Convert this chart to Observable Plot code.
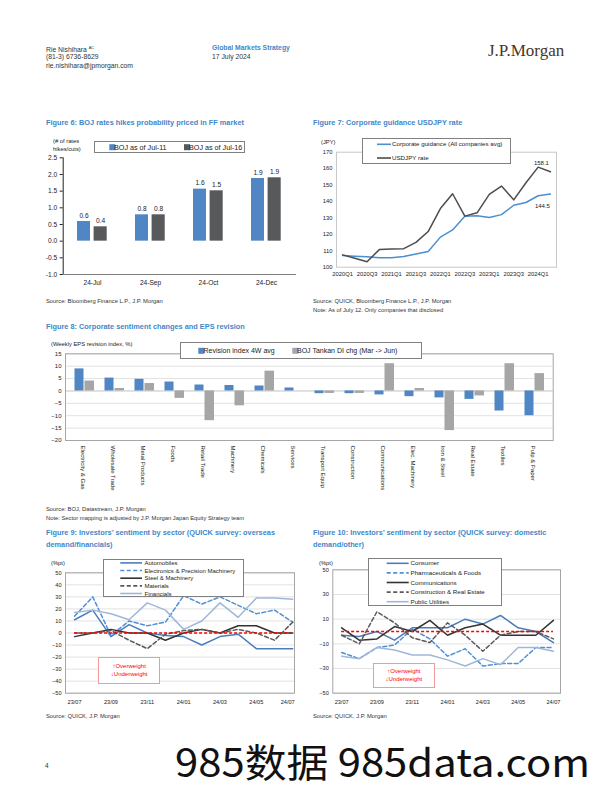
<!DOCTYPE html>
<html><head><meta charset="utf-8">
<script src="https://cdn.jsdelivr.net/npm/d3@7"></script>
<script src="https://cdn.jsdelivr.net/npm/@observablehq/plot@0.6"></script>
<style>
html,body{margin:0;padding:0;background:#fff;}
#page{position:relative;width:612px;height:792px;overflow:hidden;font-family:"Liberation Sans",Arial,sans-serif;color:#222;}
.a{position:absolute;white-space:nowrap;}
.ttl{font-size:7.35px;font-weight:bold;color:#3f87c9;line-height:12px;}
.src{font-size:5.8px;color:#333;line-height:9px;}
.hd{font-size:6.8px;color:#333;line-height:9px;}
.ax{font-size:5.8px;color:#222;line-height:8.5px;}
.ow{position:absolute;border:1px solid #f29a9a;box-sizing:border-box;color:#f00;font-size:6px;line-height:8px;text-align:center;display:flex;flex-direction:column;justify-content:center;background:#fff;}
.lg{position:absolute;border:1px solid #808080;background:#fff;box-sizing:border-box;}
</style></head><body><div id="page"></div>
<script>
// ---------------- DATA ----------------
// Figure 6
const fig6Categories = ["24-Jul", "24-Sep", "24-Oct", "24-Dec"];
const fig6Jul11 = [0.59, 0.79, 1.56, 1.88];
const fig6Jul16 = [0.43, 0.79, 1.51, 1.90];
const fig6YTicks = [-1, -0.5, 0, 0.5, 1, 1.5, 2, 2.5];

// Figure 7
const fig7Quarters = ["2020Q1","2020Q2","2020Q3","2020Q4","2021Q1","2021Q2","2021Q3","2021Q4","2022Q1","2022Q2","2022Q3","2022Q4","2023Q1","2023Q2","2023Q3","2023Q4","2024Q1","2024Q2"];
const fig7Guidance = [107.1,106.7,106.3,105.7,105.7,106.5,108.1,109.5,118.3,122.7,131.0,131.3,130.2,132.0,137.7,139.4,143.5,144.5];
const fig7Usdjpy = [107.5,105.4,103.3,110.7,111.1,111.3,115.1,121.7,135.7,144.7,131.1,133.1,144.3,149.4,141.0,151.4,160.9,158.1];
const fig7XTickIdx = [0, 2, 4, 6, 8, 10, 12, 14, 16];
const fig7YTicks = [100, 110, 120, 130, 140, 150, 160, 170];

// Figure 8
const fig8Sectors = ["Electricity & Gas","Wholesale Trade","Metal Products","Foods","Retail Trade","Machinery","Chemicals","Services","Transport Equip","Construction","Communications","Elec. Machinery","Iron & Steel","Real Estate","Textiles","Pulp & Paper"];
const fig8Revision = [8.9, 5.2, 4.7, 3.6, 2.4, 2.2, 2.0, 1.2, -1.1, -1.1, -1.6, -2.3, -2.8, -3.4, -8.1, -10.0];
const fig8Tankan = [4, 1, 3, -3, -12, -6, 8, 0, -1, -1, 11, 1, -16, -2, 11, 7];
const fig8YTicks = [-20, -15, -10, -5, 0, 5, 10, 15];

// Figure 9
const fig9Months = ["23/07","23/08","23/09","23/10","23/11","23/12","24/01","24/02","24/03","24/04","24/05","24/06","24/07"];
const fig9Automobiles = [11, 19, -3, 7, 0, -2, -3, -10, -3, -1, -13, -13, -13];
const fig9Electronics = [14, 30, -2, 10, 6, 9, 31, 24, 30, 23, 16, 19, 9];
const fig9Steel = [-3, 0, 3, 0, 0, -6, 0, 3, 0, 6, 6, 0, 0];
const fig9Materials = [0, 0, 2, -6, -13, -1, 2, 3, 0, 3, 0, -6, 9];
const fig9Financials = [17, 19, 16, 11, 25, 19, 3, 10, 25, 13, 29, 29, 28];
const fig9YTicks = [-50, -40, -30, -20, -10, 0, 10, 20, 30, 40, 50];
const fig9XTickIdx = [0, 2, 4, 6, 8, 10, 12];

// Figure 10
const fig10Months = ["23/07","23/08","23/09","23/10","23/11","23/12","24/01","24/02","24/03","24/04","24/05","24/06","24/07"];
const fig10Consumer = [-3, -4, 0, -7, 3, 3, 3, 10, 6, 13, 3, 0, -9];
const fig10Pharma = [-17, -22, -13, -11, 2, -6, -20, -14, -28, -26, -26, -13, -13];
const fig10Communications = [3, -7, -6, 4, 0, 9, -3, 3, 6, -3, -3, -3, 9];
const fig10Construction = [-3, -10, 16, 7, -5, -9, 7, -3, -16, -3, 0, 0, -6];
const fig10Utilities = [-20, -22, -13, -15, -19, -19, -23, -28, -22, -27, -13, -13, -16];
const fig10YTicks = [-50, -30, -10, 10, 30, 50];
const fig10XTickIdx = [0, 2, 4, 6, 8, 10, 12];

// ---------------- STYLE ----------------
const BLUE = "#4f86c3";
const DARK = "#58595b";
const GRAY = "#a6a6a6";
const LBLUE = "#9fb7d9";
const FONT = "Liberation Sans, Arial, sans-serif";
const page = document.getElementById("page");

function put(cls, left, top, html, extra) {
  const d = document.createElement("div");
  d.className = "a " + cls;
  d.style.left = left + "px";
  d.style.top = top + "px";
  if (extra) Object.assign(d.style, extra);
  d.innerHTML = html;
  page.appendChild(d);
  return d;
}
function place(svg, left, top) {
  svg.style.position = "absolute";
  svg.style.left = left + "px";
  svg.style.top = top + "px";
  svg.style.overflow = "visible";
  page.appendChild(svg);
}
const NS = "http://www.w3.org/2000/svg";
function legend(left, top, w, h, fs, entries) {
  const box = document.createElement("div");
  box.className = "lg";
  Object.assign(box.style, {left: left + "px", top: top + "px", width: w + "px", height: h + "px"});
  const svg = document.createElementNS(NS, "svg");
  svg.setAttribute("width", w); svg.setAttribute("height", h);
  svg.style.position = "absolute"; svg.style.left = "-1px"; svg.style.top = "-1px"; svg.style.overflow = "visible";
  for (const e of entries) {
    if (e.type === "square") {
      const r = document.createElementNS(NS, "rect");
      r.setAttribute("x", e.x); r.setAttribute("y", e.y - 3); r.setAttribute("width", 6); r.setAttribute("height", 6);
      r.setAttribute("fill", e.color); svg.appendChild(r);
    } else {
      const l = document.createElementNS(NS, "line");
      l.setAttribute("x1", e.x); l.setAttribute("x2", e.x2); l.setAttribute("y1", e.y); l.setAttribute("y2", e.y);
      l.setAttribute("stroke", e.color); l.setAttribute("stroke-width", 1.6);
      if (e.dash) l.setAttribute("stroke-dasharray", e.dash);
      svg.appendChild(l);
    }
    const t = document.createElementNS(NS, "text");
    t.setAttribute("x", e.tx); t.setAttribute("y", e.y); t.setAttribute("dy", "0.35em");
    t.setAttribute("font-size", fs); t.setAttribute("font-family", FONT); t.setAttribute("fill", "#222");
    t.textContent = e.label; svg.appendChild(t);
  }
  box.appendChild(svg);
  page.appendChild(box);
}
function owBox(left, top, w, h) {
  const d = document.createElement("div");
  d.className = "ow";
  Object.assign(d.style, {left: left + "px", top: top + "px", width: w + "px", height: h + "px"});
  d.innerHTML = "<div>\u2191Overweight</div><div>\u2193Underweight</div>";
  page.appendChild(d);
}
const baseStyle = (fs) => ({fontFamily: FONT, fontSize: fs + "px", color: "#222", background: "transparent", overflow: "visible"});

// ---------------- HEADER ----------------
put("hd", 46, 42.5, "Rie Nishihara <sup style='font-size:4px'>AC</sup>");
put("hd", 46, 51.5, "(81-3) 6736-8629");
put("hd", 46, 60.5, "rie.nishihara@jpmorgan.com");
put("hd", 212, 42.5, "Global Markets Strategy", {color: "#3f87c9", fontWeight: "bold"});
put("hd", 212, 51.5, "17 July 2024");
put("", 488, 41, "J.P.Morgan", {fontFamily: "Liberation Serif, 'DejaVu Serif', serif", fontSize: "17px", lineHeight: "20px", color: "#4a3527"});

// ---------------- FIGURE 6 ----------------
put("ttl", 46, 117, "Figure 6: BOJ rates hikes probability priced in FF market");
put("ax", 53, 136.5, "(# of rates<br>hikes/cuts)");
const fig6Rows1 = fig6Categories.map((c, i) => ({cat: c, v: fig6Jul11[i]}));
const fig6Rows2 = fig6Categories.map((c, i) => ({cat: c, v: fig6Jul16[i]}));
const f6 = Plot.plot({
  width: 262, height: 140,
  marginLeft: 22.7, marginRight: 6, marginTop: 7.3, marginBottom: 16,
  style: baseStyle(6.6),
  x: {domain: fig6Categories, padding: 0, tickSize: 0, tickPadding: 6, label: null},
  y: {domain: [-1, 2.5], ticks: fig6YTicks, tickFormat: d => d.toFixed(1), tickSize: 3, tickPadding: 3, line: true, label: null},
  marks: [
    Plot.ruleY([-1], {stroke: "#7f7f7f"}),
    Plot.barY(fig6Rows1, {x: "cat", y: "v", fill: BLUE, insetLeft: 14, insetRight: 31}),
    Plot.barY(fig6Rows2, {x: "cat", y: "v", fill: DARK, insetLeft: 30.6, insetRight: 14.3}),
    Plot.text(fig6Rows1, {x: "cat", y: "v", text: d => d.v.toFixed(1), dx: -8.5, dy: -6, fontSize: 6.6}),
    Plot.text(fig6Rows2, {x: "cat", y: "v", text: d => d.v.toFixed(1), dx: 8.2, dy: -6, fontSize: 6.6})
  ]
});
place(f6, 40, 150);
legend(94, 140.7, 151, 12.3, 7.2, [
  {type: "square", x: 15.3, y: 6.2, color: BLUE, tx: 20, label: "BOJ as of Jul-11"},
  {type: "square", x: 90, y: 6.2, color: DARK, tx: 95, label: "BOJ as of Jul-16"}
]);
put("src", 46, 296.5, "Source: Bloomberg Finance L.P., J.P. Morgan");

// ---------------- FIGURE 7 ----------------
put("ttl", 313, 117, "Figure 7: Corporate guidance USDJPY rate");
put("ax", 321, 138, "(JPY)");
const f7 = Plot.plot({
  width: 265, height: 140,
  marginLeft: 31, marginRight: 14, marginTop: 11.7, marginBottom: 13.3,
  style: baseStyle(5.8),
  x: {domain: [-0.5, 17.5], ticks: fig7XTickIdx, tickFormat: i => fig7Quarters[i], tickSize: 0, tickPadding: 5, label: null},
  y: {domain: [100, 170], ticks: fig7YTicks, tickSize: 0, tickPadding: 4, label: null},
  marks: [
    Plot.frame({stroke: "#c8c8c8"}),
    Plot.lineY(fig7Guidance, {x: (d, i) => i, y: d => d, stroke: "#4a8fd0", strokeWidth: 1.5}),
    Plot.lineY(fig7Usdjpy, {x: (d, i) => i, y: d => d, stroke: "#4d4d4d", strokeWidth: 1.5}),
    Plot.text([fig7Usdjpy[fig7Usdjpy.length - 1]], {x: fig7Usdjpy.length - 1, y: d => d, text: d => d.toFixed(1), dx: -9, dy: -9, fontSize: 6}),
    Plot.text([fig7Guidance[fig7Guidance.length - 1]], {x: fig7Guidance.length - 1, y: d => d, text: d => d.toFixed(1), dx: -8, dy: 11.5, fontSize: 6})
  ]
});
place(f7, 305, 140);
legend(361.7, 138, 149, 26, 6.2, [
  {type: "line", x: 15, x2: 29, y: 6.3, color: "#4a8fd0", tx: 30, label: "Corporate guidance (All companies avg)"},
  {type: "line", x: 15, x2: 29, y: 20, color: "#4d4d4d", tx: 30, label: "USDJPY rate"}
]);
put("src", 313, 296.5, "Source: QUICK, Bloomberg Finance L.P., J.P. Morgan<br>Note: As of July 12. Only companies that disclosed");

// ---------------- FIGURE 8 ----------------
put("ttl", 46, 321, "Figure 8: Corporate sentiment changes and EPS revision");
put("ax", 51, 340, "(Weekly EPS revision index, %)");
const fig8Rows = fig8Sectors.map((s, i) => ({sector: s, rev: fig8Revision[i], tankan: fig8Tankan[i]}));
const f8 = Plot.plot({
  width: 520, height: 165,
  marginLeft: 25, marginRight: 7.3, marginTop: 17.3, marginBottom: 61,
  style: baseStyle(6),
  x: {domain: fig8Sectors, padding: 0, axis: null},
  y: {domain: [-20, 15], ticks: fig8YTicks, tickSize: 0, tickPadding: 4, label: null},
  marks: [
    Plot.ruleY(fig8YTicks, {stroke: "#e2e2e2"}),
    Plot.ruleY([0], {stroke: "#d0d0d0"}),
    Plot.frame({stroke: "#a6a6a6"}),
    Plot.barY(fig8Rows, {x: "sector", y: "rev", fill: BLUE, insetLeft: 5.5, insetRight: 15.5}),
    Plot.barY(fig8Rows, {x: "sector", y: "tankan", fill: GRAY, insetLeft: 15.5, insetRight: 5}),
    Plot.text(fig8Sectors, {x: d => d, y: -20, text: d => d, rotate: 90, textAnchor: "start", dy: 5, dx: -1.5, fontSize: 6})
  ]
});
place(f8, 40, 336);
legend(180, 341.7, 242, 17.6, 7, [
  {type: "square", x: 18.3, y: 8.8, color: BLUE, tx: 23.5, label: "Revision index 4W avg"},
  {type: "square", x: 112.3, y: 8.8, color: GRAY, tx: 117, label: "BOJ Tankan DI chg (Mar -> Jun)"}
]);
put("src", 46, 504.5, "Source: BOJ, Datastream, J.P. Morgan<br>Note: Sector mapping is adjusted by J.P. Morgan Japan Equity Strategy team");

// ---------------- FIGURE 9 ----------------
put("ttl", 46, 527, "Figure 9: Investors\u2019 sentiment by sector (QUICK survey: overseas<br>demand/financials)");
put("ax", 51, 559, "(%pt)");
const fig9Series = [
  {name: "Automobiles", values: fig9Automobiles, stroke: "#4a7ebb", dash: null},
  {name: "Electronics & Precision Machinery", values: fig9Electronics, stroke: "#4f8fd6", dash: "4,2.5"},
  {name: "Steel & Machinery", values: fig9Steel, stroke: "#333333", dash: null},
  {name: "Materials", values: fig9Materials, stroke: "#595959", dash: "4,2.5"},
  {name: "Financials", values: fig9Financials, stroke: LBLUE, dash: null}
];
const f9 = Plot.plot({
  width: 260, height: 150,
  marginLeft: 25, marginRight: 6, marginTop: 12.3, marginBottom: 17.3,
  style: baseStyle(5.6),
  x: {domain: [-0.5, 12.1], axis: null},
  y: {domain: [-50, 50], ticks: fig9YTicks, tickSize: 0, tickPadding: 4, label: null},
  marks: [
    Plot.ruleY(fig9YTicks, {stroke: "#e2e2e2"}),
    Plot.frame({stroke: "#a6a6a6"}),
    ...fig9Series.map(s => Plot.lineY(s.values, {x: (d, i) => i, y: d => d, stroke: s.stroke, strokeWidth: 1.5, strokeDasharray: s.dash})),
    Plot.ruleY([0], {x1: 0, x2: fig9Months.length - 1, stroke: "#ff0000", strokeWidth: 1.5, strokeDasharray: "3,2"}),
    Plot.text(fig9XTickIdx.slice(0, -1), {x: d => d, y: -50, text: d => fig9Months[d], dy: 9, fontSize: 5.6}),
    Plot.text(fig9XTickIdx.slice(-1), {x: d => d, y: -50, text: d => fig9Months[d], dy: 9, dx: 2, textAnchor: "end", fontSize: 5.6})
  ]
});
place(f9, 40, 560);
legend(102.7, 559, 141.6, 38.3, 6, fig9Series.map((s, i) => ({
  type: "line", x: 17.3, x2: 39, y: 3.9 + i * 7.65, color: s.stroke, dash: s.dash, tx: 41.5, label: s.name
})));
owBox(98.3, 656.7, 61.7, 27.3);
put("src", 46, 712, "Source: QUICK, J.P. Morgan");

// ---------------- FIGURE 10 ----------------
put("ttl", 313, 527, "Figure 10: Investors\u2019 sentiment by sector (QUICK survey: domestic<br>demand/other)");
put("ax", 319, 558.5, "(%pt)");
const fig10Series = [
  {name: "Consumer", values: fig10Consumer, stroke: "#4a7ebb", dash: null},
  {name: "Pharmaceuticals & Foods", values: fig10Pharma, stroke: "#4f8fd6", dash: "4,2.5"},
  {name: "Communications", values: fig10Communications, stroke: "#333333", dash: null},
  {name: "Construction & Real Estate", values: fig10Construction, stroke: "#595959", dash: "4,2.5"},
  {name: "Public Utilities", values: fig10Utilities, stroke: LBLUE, dash: null}
];
const f10 = Plot.plot({
  width: 260, height: 150,
  marginLeft: 27.3, marginRight: 5, marginTop: 9.3, marginBottom: 17.3,
  style: baseStyle(5.6),
  x: {domain: [-0.5, 12.4], axis: null},
  y: {domain: [-50, 50], ticks: fig10YTicks, tickSize: 0, tickPadding: 4, label: null},
  marks: [
    Plot.ruleY(fig10YTicks, {stroke: "#e2e2e2"}),
    Plot.frame({stroke: "#a6a6a6"}),
    ...fig10Series.map(s => Plot.lineY(s.values, {x: (d, i) => i, y: d => d, stroke: s.stroke, strokeWidth: 1.5, strokeDasharray: s.dash})),
    Plot.ruleY([0], {x1: 0, x2: fig10Months.length - 1, stroke: "#ff0000", strokeWidth: 1.5, strokeDasharray: "3,2"}),
    Plot.text(fig10XTickIdx, {x: d => d, y: -50, text: d => fig10Months[d], dy: 9, fontSize: 5.6})
  ]
});
place(f10, 305, 560);
legend(368.3, 558, 133.4, 48, 6.2, fig10Series.map((s, i) => ({
  type: "line", x: 18.7, x2: 40.7, y: 5.3 + i * 9.6, color: s.stroke, dash: s.dash, tx: 42.5, label: s.name
})));
owBox(372.7, 662.7, 62.3, 25.6);
put("src", 313, 712, "Source: QUICK, J.P. Morgan");

// ---------------- FOOTER ----------------
put("hd", 45, 760.5, "4", {fontSize: "6.5px"});
(function () {
  const svg = document.createElementNS(NS, "svg");
  svg.setAttribute("width", 612); svg.setAttribute("height", 66);
  svg.style.position = "absolute"; svg.style.left = "0px"; svg.style.top = "724px";
  const t = document.createElementNS(NS, "text");
  t.setAttribute("x", 175); t.setAttribute("y", 53);
  t.setAttribute("font-size", 39); t.setAttribute("font-family", "'Noto Sans CJK SC', 'Noto Sans', sans-serif");
  t.setAttribute("textLength", 415); t.setAttribute("lengthAdjust", "spacingAndGlyphs");
  t.setAttribute("fill", "#111");
  t.textContent = "985\u6570\u636e 985data.com";
  svg.appendChild(t);
  page.appendChild(svg);
})();
</script></body></html>
